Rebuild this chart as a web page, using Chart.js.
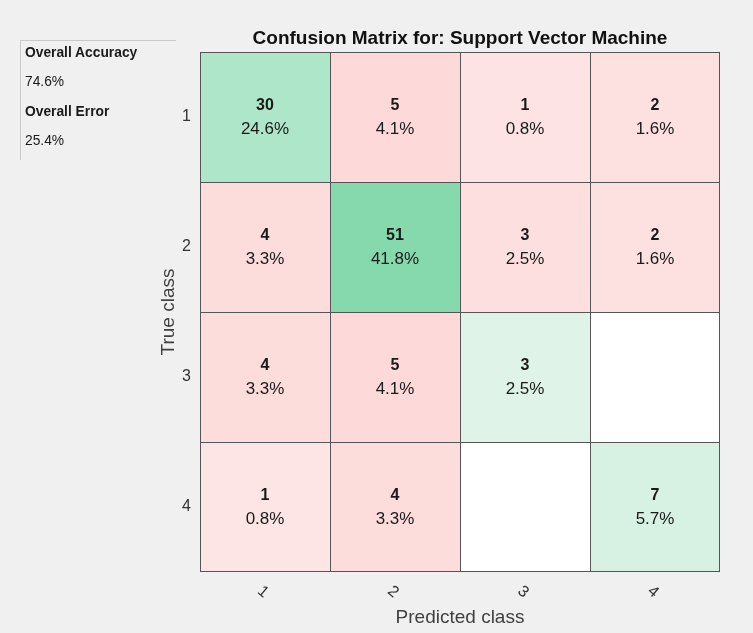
<!DOCTYPE html>
<html><head><meta charset="utf-8">
<script src="https://cdn.jsdelivr.net/npm/chart.js@4/dist/chart.umd.min.js"></script>
<style>
html,body{margin:0;padding:0;background:#f0f0f0;}
#wrap{position:relative;width:753px;height:633px;overflow:hidden;background:#f0f0f0;}
#c{position:absolute;left:0;top:0;}
#panel{position:absolute;left:20px;top:40px;width:155px;height:119px;border-top:1px solid #c9c9c9;border-left:1px solid #c9c9c9;overflow:hidden;font-family:"Liberation Sans",Arial,sans-serif;font-size:13.8px;color:#1a1a1a;}
#panel div{position:absolute;left:4px;white-space:nowrap;line-height:16px;}
.b{font-weight:bold;}
</style></head>
<body><div id="wrap"><canvas id="c" width="753" height="633"></canvas>
<div id="panel"></div></div>
<script>
// ---- data ----
const classes = ['1', '2', '3', '4'];
const trueClass1 = [30, 5, 1, 2];
const trueClass2 = [4, 51, 3, 2];
const trueClass3 = [4, 5, 3, 0];
const trueClass4 = [1, 4, 0, 7];
const chartTitle = 'Confusion Matrix for: Support Vector Machine';

// ---- styles ----
const FONT = '"Liberation Sans", Arial, Helvetica, sans-serif';
const cellColors = [
  ['#ade6c8', '#fdd9d9', '#fde3e3', '#fde1e1'],
  ['#fddcdc', '#86d9ad', '#fddfdf', '#fde1e1'],
  ['#fddcdc', '#fdd9d9', '#dff3e8', '#ffffff'],
  ['#fee5e5', '#fddcdc', '#ffffff', '#d7f1e3']
];

const rows = [trueClass1, trueClass2, trueClass3, trueClass4];
const total = rows.reduce((s, r) => s + r.reduce((a, b) => a + b, 0), 0);
const correct = rows.reduce((s, r, i) => s + r[i], 0);
const acc = (100 * correct / total).toFixed(1) + '%';
const err = (100 * (total - correct) / total).toFixed(1) + '%';

// left summary panel (real text)
const panel = document.getElementById('panel');
[['Overall Accuracy', true, 4], [acc, false, 33], ['Overall Error', true, 63], [err, false, 92]].forEach(([t, b, top]) => {
  const d = document.createElement('div');
  d.textContent = t; if (b) d.className = 'b'; d.style.top = top + 'px';
  panel.appendChild(d);
});

const datasets = rows.map((r, ri) => ({
  label: 'True class ' + classes[ri],
  data: classes.map(() => [ri + 0.5, ri + 1.5]),
  backgroundColor: cellColors[ri],
  borderColor: '#555555',
  borderWidth: ctx => ({ top: 1, left: 1, right: ctx.dataIndex === classes.length - 1 ? 1 : 0, bottom: ri === rows.length - 1 ? 1 : 0 }),
  borderSkipped: false,
  inflateAmount: 0,
  barPercentage: 1,
  categoryPercentage: 1,
  grouped: false
}));

const cellText = {
  id: 'cellText',
  afterDatasetsDraw(chart) {
    const { ctx, scales: { x, y } } = chart;
    ctx.save();
    ctx.textAlign = 'center';
    ctx.textBaseline = 'middle';
    ctx.fillStyle = '#1a1a1a';
    rows.forEach((r, ri) => r.forEach((v, ci) => {
      if (!v) return;
      const px = x.getPixelForValue(ci), py = y.getPixelForValue(ri + 1);
      ctx.font = 'bold 16px ' + FONT;
      ctx.fillText(String(v), px, py - 11);
      ctx.font = '17px ' + FONT;
      ctx.fillText((100 * v / total).toFixed(1) + '%', px, py + 12);
    }));
    ctx.restore();
  }
};

const rotatedXTicks = {
  id: 'rotatedXTicks',
  afterDraw(chart) {
    const { ctx, scales: { x }, chartArea } = chart;
    ctx.save();
    ctx.font = '16px ' + FONT;
    ctx.fillStyle = '#333';
    ctx.textAlign = 'center';
    ctx.textBaseline = 'middle';
    classes.forEach((c, i) => {
      ctx.save();
      ctx.translate(x.getPixelForValue(i) - 2, chartArea.bottom + 20);
      ctx.rotate(40 * Math.PI / 180);
      ctx.fillText(c, 0, 0);
      ctx.restore();
    });
    ctx.restore();
  }
};

new Chart(document.getElementById('c'), {
  type: 'bar',
  data: { labels: classes, datasets },
  options: {
    responsive: false,
    animation: false,
    layout: { padding: { left: 157, right: 33, top: 0, bottom: 4 } },
    plugins: {
      legend: { display: false },
      tooltip: { enabled: false },
      title: {
        display: true, text: chartTitle, fullSize: false, color: '#111',
        font: { family: FONT, size: 19, weight: 'bold', lineHeight: 1 },
        padding: { top: 29, bottom: 4 }
      }
    },
    scales: {
      x: {
        type: 'category',
        grid: { display: false, drawTicks: false },
        border: { display: false },
        ticks: { display: false },
        title: { display: true, text: 'Predicted class', color: '#404040', font: { family: FONT, size: 19 }, padding: 0 },
        afterFit: s => { s.height = 57; }
      },
      y: {
        type: 'linear', min: 0.5, max: 4.5, reverse: true,
        grid: { display: false, drawTicks: false },
        border: { display: false },
        afterBuildTicks: s => { s.ticks = classes.map((c, i) => ({ value: i + 1 })); },
        ticks: { callback: v => classes[v - 1], color: '#333', font: { family: FONT, size: 16 }, padding: 9 },
        title: { display: true, text: 'True class', color: '#404040', font: { family: FONT, size: 19 }, padding: 0 },
        afterFit: s => { s.width = 43; }
      }
    }
  },
  plugins: [cellText, rotatedXTicks]
});
</script>
</body></html>
